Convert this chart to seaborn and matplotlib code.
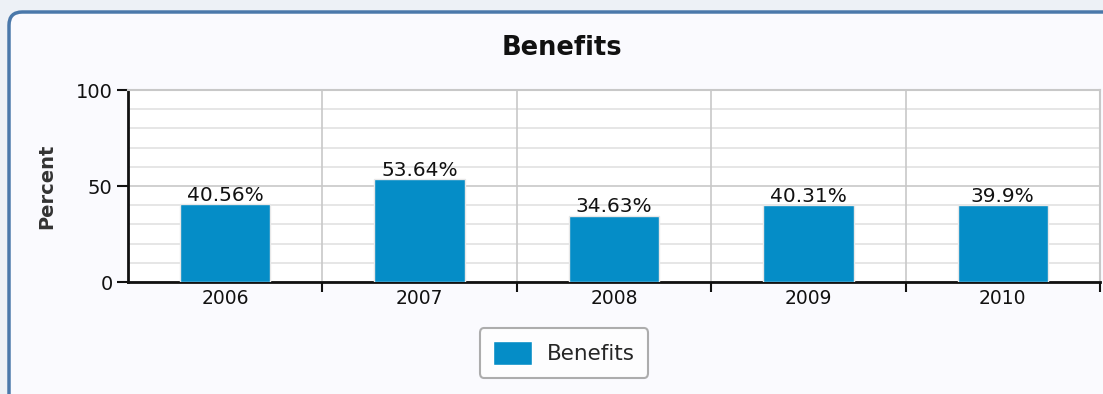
import matplotlib
matplotlib.use("Agg")
import matplotlib.pyplot as plt
import seaborn as sns
import pandas as pd
from matplotlib.patches import FancyBboxPatch
from matplotlib.ticker import MultipleLocator

years = ["2006", "2007", "2008", "2009", "2010"]
values = [40.56, 53.64, 34.63, 40.31, 39.9]
labels = ["40.56%", "53.64%", "34.63%", "40.31%", "39.9%"]
series_name = "Benefits"

sns.set_theme(style="white")
plt.rcParams['font.family'] = ['DejaVu Sans']

W, H = 1103, 394
fig = plt.figure(figsize=(W / 100, H / 100), dpi=100)
fig.patch.set_facecolor("#edf1f6")

# panel
panel = FancyBboxPatch((9 / W, -0.05), (W + 20) / W, (H - 12) / H + 0.05,
                       boxstyle="round,pad=0,rounding_size=0.012",
                       transform=fig.transFigure, facecolor="#fafafe",
                       edgecolor="#4a78aa", linewidth=2.5, zorder=-10,
                       mutation_aspect=W / H)
fig.patches.append(panel)

ax = fig.add_axes([128 / W, 1 - 282 / H, (1100 - 128) / W, (282 - 90) / H])
ax.set_zorder(5)
ax.set_facecolor("white")

df = pd.DataFrame({"year": years, "value": values})
sns.barplot(data=df, x="year", y="value", color="#058DC7", saturation=1,
            width=0.465, ax=ax, zorder=3, edgecolor="#e8e8e8", linewidth=1.0)

ax.set_ylim(0, 100)
ax.set_xlim(-0.5, len(years) - 0.5)
ax.yaxis.set_major_locator(MultipleLocator(50))
ax.yaxis.set_minor_locator(MultipleLocator(10))
ax.grid(which="minor", axis="y", color="#e2e2e2", linewidth=1.2, zorder=0)
ax.grid(which="major", axis="y", color="#c8c8c8", linewidth=1.2, zorder=0)
ax.set_axisbelow(True)
for b in [0.5, 1.5, 2.5, 3.5]:
    ax.axvline(b, color="#c8c8c8", linewidth=1.2, zorder=1)

for s in ["top", "right"]:
    ax.spines[s].set_color("#c8c8c8")
    ax.spines[s].set_linewidth(1.5)
ax.spines["left"].set_color("#111111")
ax.spines["left"].set_linewidth(2)
ax.spines["bottom"].set_color("#111111")
ax.spines["bottom"].set_linewidth(2)

ax.set_xticks(range(len(years)))
ax.set_xticklabels(years, fontsize=13.5, color="#111111")
ax.tick_params(axis="x", length=0, pad=5)
ax.set_xticks([0.5, 1.5, 2.5, 3.5, 4.5], minor=True)
ax.tick_params(axis="x", which="minor", length=7, width=1.5, color="#111111", direction="out", bottom=True)
ax.tick_params(axis="y", which="major", length=8, width=1.5, color="#111111",
               labelsize=14, labelcolor="#111111", direction="out", left=True, pad=3)
ax.tick_params(axis="y", which="minor", length=0)

ax.set_xlabel("")
ax.set_ylabel("Percent", fontsize=14, fontweight="bold", color="#333333", labelpad=14)

for i, (v, lab) in enumerate(zip(values, labels)):
    ax.text(i, v - 0.5, lab, ha="center", va="bottom", fontsize=14.5,
            color="#111111", zorder=5)

fig.text(562 / W, 1 - 48 / H, "Benefits", ha="center", va="center",
         fontsize=18.5, fontweight="bold", color="#111111")

# legend
leg = ax.legend(handles=[plt.Rectangle((0, 0), 1, 1, facecolor="#058DC7")],
                labels=[series_name], loc="center",
                bbox_to_anchor=(564 / W, 1 - 353 / H), bbox_transform=fig.transFigure,
                fontsize=15.5, frameon=True, fancybox=True, edgecolor="#999999",
                handlelength=1.8, handleheight=1.3, borderpad=0.6, handletextpad=0.7,
                borderaxespad=0)
leg.get_frame().set_linewidth(1.5)
leg.get_frame().set_facecolor("white")

fig.savefig("out.png", dpi=100, facecolor=fig.get_facecolor())
